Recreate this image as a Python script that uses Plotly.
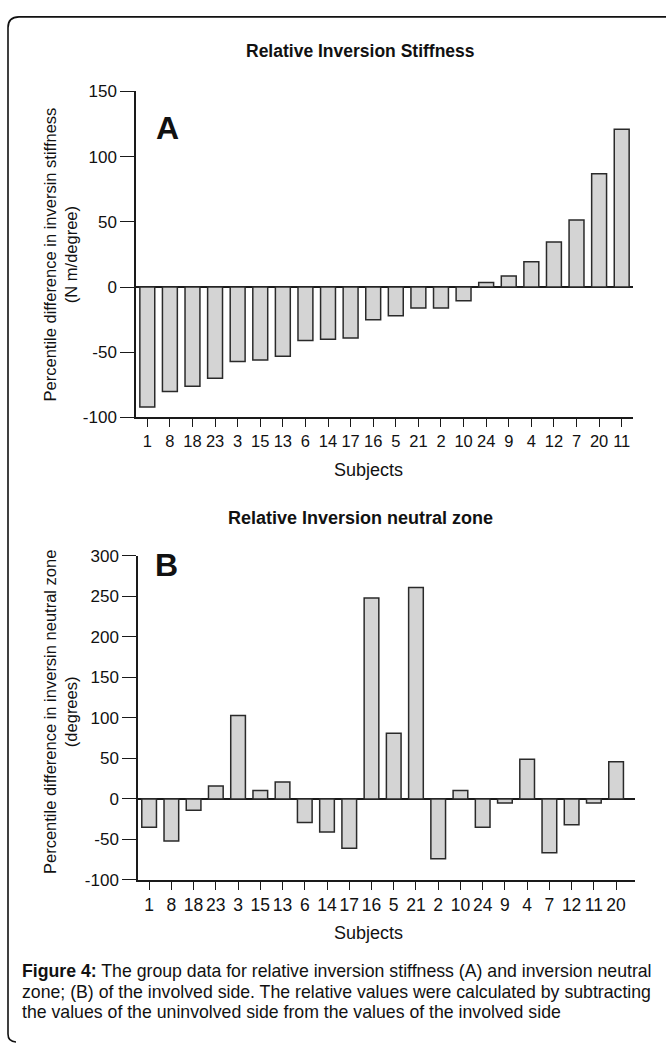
import plotly.graph_objects as go

W, H = 666, 1048

# ---- data ----
subjects_a = ["1", "8", "18", "23", "3", "15", "13", "6", "14", "17", "16",
              "5", "21", "2", "10", "24", "9", "4", "12", "7", "20", "11"]
values_a = [-92, -80, -76, -70, -57, -56, -53, -41, -40, -39, -25,
            -22, -16, -16, -10.5, 3.5, 8.5, 19.5, 34.5, 51.5, 87, 121]

subjects_b = ["1", "8", "18", "23", "3", "15", "13", "6", "14", "17", "16",
              "5", "21", "2", "10", "24", "9", "4", "7", "12", "11", "20"]
values_b = [-35, -52, -14, 16, 103, 10.5, 21, -29, -41, -61, 248,
            81, 261, -74, 10.5, -35, -5, 49, -66.5, -32, -5, 46]

ticks_a = [-100, -50, 0, 50, 100, 150]
ticks_b = [-100, -50, 0, 50, 100, 150, 200, 250, 300]

FONT = "Liberation Sans, Arial, sans-serif"
LINE = "#1a1a1a"


def px(x):
    return x / W


def py(y):
    return 1 - y / H


fig = go.Figure()

bar_style = dict(marker=dict(color="#d4d4d4", line=dict(color="#2a2a2a", width=1.5)),
                 showlegend=False, hoverinfo="x+y")

fig.add_trace(go.Bar(x=subjects_a, y=values_a, xaxis="x", yaxis="y", **bar_style))
fig.add_trace(go.Bar(x=subjects_b, y=values_b, xaxis="x2", yaxis="y2", **bar_style))

axis_common = dict(showgrid=False, showline=True, linecolor=LINE, linewidth=1.5,
                   ticks="outside", tickcolor=LINE, tickwidth=1.3)

fig.update_layout(
    width=W, height=H,
    margin=dict(l=0, r=0, t=0, b=0),
    paper_bgcolor="white", plot_bgcolor="white",
    bargap=0.34,
    font=dict(family=FONT, color="#111"),
    xaxis=dict(domain=[px(136), px(633)], anchor="y", type="category",
               range=[-0.5, 21.5], ticklen=8, zeroline=False,
               tickfont=dict(family=FONT, size=16.5, color="#111"), **axis_common),
    yaxis=dict(domain=[py(416), py(84)], anchor="x", range=[-100, 150],
               tickvals=ticks_a, ticktext=[str(t) for t in ticks_a],
               ticklen=14, zeroline=True, zerolinecolor=LINE, zerolinewidth=1.5,
               tickfont=dict(family=FONT, size=17, color="#111"), **axis_common),
    xaxis2=dict(domain=[px(138), px(635)], anchor="y2", type="category",
                range=[-0.5, 21.85], ticklen=8, zeroline=False,
                tickfont=dict(family=FONT, size=17.5, color="#111"), **axis_common),
    yaxis2=dict(domain=[py(887), py(557)], anchor="x2", range=[-100, 300],
                tickvals=ticks_b, ticktext=[str(t) for t in ticks_b],
                ticklen=14, zeroline=True, zerolinecolor=LINE, zerolinewidth=1.5,
                tickfont=dict(family=FONT, size=17, color="#111"), **axis_common),
)

ann = []


def text(x, y, s, size, angle=0, xanchor="center", align="center"):
    ann.append(dict(xref="paper", yref="paper", x=px(x), y=py(y), text=s,
                    showarrow=False, textangle=angle, xanchor=xanchor, yanchor="middle",
                    align=align,
                    font=dict(family=FONT, size=size, color="#111")))


text(360, 43, "<b>Relative Inversion Stiffness</b>", 17.5)
text(360, 518, "<b>Relative Inversion neutral zone</b>", 18)
text(167, 121, "<b>A</b>", 32)
text(166, 566, "<b>B</b>", 32)
text(368, 470, "Subjects", 18)
text(368, 941, "Subjects", 18)
text(60, 250, "Percentile difference in inversin stiffness<br>(N m/degree)", 16.5, angle=-90)
text(60, 716, "Percentile difference in inversin neutral zone<br>(degrees)", 16.5, angle=-90)

caption = [
    "<b>Figure 4:</b> The group data for relative inversion stiffness (A) and inversion neutral",
    "zone; (B) of the involved side. The relative values were calculated by subtracting",
    "the values of the uninvolved side from the values of the involved side",
]
for i, line in enumerate(caption):
    text(20, 980 + 21 * i, line, 17.7, xanchor="left", align="left")

fig.update_layout(annotations=ann)

# rounded frame (right and bottom edges fall outside the picture)
r = 11
r2 = 8
x0, y0, yb, xr = 8, 8, 1052, 720
path = (f"M {px(x0 + r2)},{py(yb)} Q {px(x0)},{py(yb)} {px(x0)},{py(yb - r2)} "
        f"L {px(x0)},{py(y0 + r)} Q {px(x0)},{py(y0)} {px(x0 + r)},{py(y0)} "
        f"L {px(xr)},{py(y0)}")
fig.add_shape(type="path", xref="paper", yref="paper", path=path,
              line=dict(color="#111", width=1.6))

fig.write_html(
    "out.html",
    config={"displayModeBar": False},
    post_script="document.body.style.margin='0';document.body.style.padding='0';"
                "document.body.style.overflow='hidden';",
)
